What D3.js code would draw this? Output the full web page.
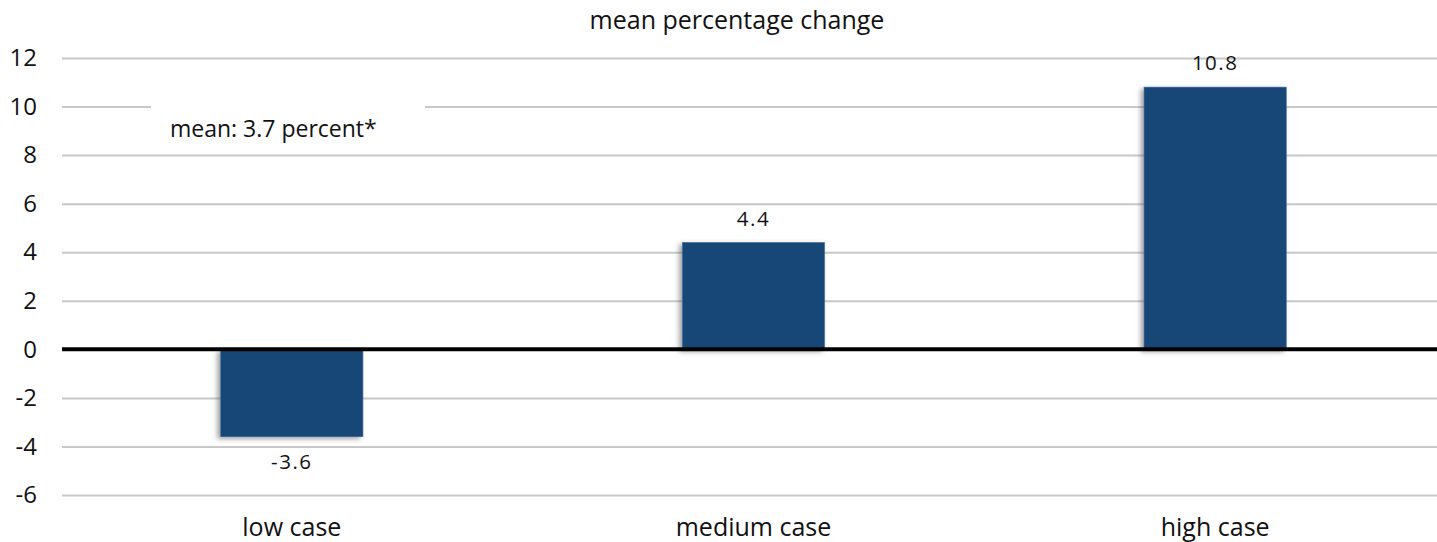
<!DOCTYPE html>
<html>
<head>
<meta charset="utf-8">
<script src="https://cdn.jsdelivr.net/npm/d3@7"></script>
<style>
  html, body { margin: 0; padding: 0; background: #fff; }
  svg { display: block; }
  text { font-family: "Open Sans", "Noto Sans", sans-serif; fill: #111; }
</style>
</head>
<body>
<svg id="chart" width="1437" height="542"></svg>
<script>
const categories = ["low case", "medium case", "high case"];
const values = [-3.6, 4.4, 10.8];
const valueLabels = ["-3.6", "4.4", "10.8"];
const yTicks = [-6, -4, -2, 0, 2, 4, 6, 8, 10, 12];
const subtitle = "mean percentage change";
const note = "mean: 3.7 percent*";

const W = 1437, H = 542;
const svg = d3.select("#chart");

const left = 62, right = 1437;
const x = d3.scaleBand().domain(categories).range([61, 1446]).paddingInner(0.692).paddingOuter(0.346);
const y = d3.scaleLinear().domain([-6, 12]).range([495, 58]);

const defs = svg.append("defs");
const f = defs.append("filter").attr("id", "shadow").attr("x", "-20%").attr("y", "-20%").attr("width", "140%").attr("height", "140%");
f.append("feDropShadow").attr("dx", -3).attr("dy", 2).attr("stdDeviation", 2.5)
  .attr("flood-color", "#555").attr("flood-opacity", 0.55);

// subtitle
svg.append("text").attr("x", 737).attr("y", 29)
  .attr("text-anchor", "middle").style("font-size", "25px").text(subtitle);

// grid + tick labels
const yAxis = d3.axisLeft(y).tickValues(yTicks).tickSize(-(right - left)).tickPadding(25)
  .tickFormat(d => String(d));
const gy = svg.append("g").attr("transform", `translate(${left},0)`).call(yAxis);
gy.select(".domain").remove();
gy.selectAll(".tick line").attr("stroke", "#c8c8c8").attr("stroke-width", 2);
gy.selectAll(".tick text").style("font-size", "24px").attr("fill", "#111");

// annotation box
svg.append("rect").attr("x", 151).attr("y", 103).attr("width", 274).attr("height", 40).attr("fill", "#fff");
svg.append("text").attr("x", 170).attr("y", 137)
  .style("font-size", "23px").text(note);

// bars
svg.append("g").selectAll("rect").data(categories).join("rect")
  .attr("x", d => x(d))
  .attr("width", x.bandwidth())
  .attr("y", (d, i) => y(Math.max(0, values[i])))
  .attr("height", (d, i) => Math.abs(y(values[i]) - y(0)))
  .attr("fill", "#174777")
  .attr("stroke", "#3d6ea3").attr("stroke-width", 0.6)
  .attr("filter", "url(#shadow)");

// zero line
svg.append("line").attr("x1", left).attr("x2", right).attr("y1", y(0)).attr("y2", y(0))
  .attr("stroke", "#000").attr("stroke-width", 4);

// value labels
svg.append("g").selectAll("text").data(categories).join("text")
  .attr("x", d => x(d) + x.bandwidth() / 2)
  .attr("y", (d, i) => values[i] >= 0 ? y(values[i]) - 17 : y(values[i]) + 32)
  .attr("text-anchor", "middle")
  .style("font-size", "20.5px").style("letter-spacing", "1.5px")
  .text((d, i) => valueLabels[i]);

// category labels
svg.append("g").selectAll("text").data(categories).join("text")
  .attr("x", d => x(d) + x.bandwidth() / 2)
  .attr("y", 536)
  .attr("text-anchor", "middle")
  .style("font-size", "25px")
  .text(d => d);
</script>
</body>
</html>
